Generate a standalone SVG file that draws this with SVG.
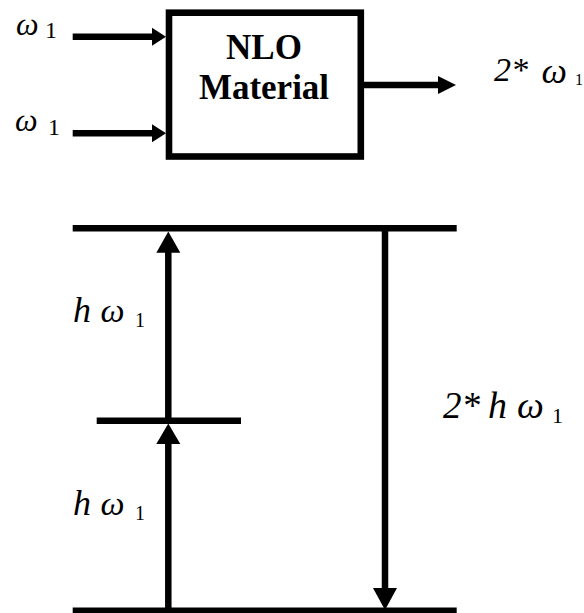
<svg xmlns="http://www.w3.org/2000/svg" width="584" height="613" viewBox="0 0 584 613">
<g id="nlo">
<rect x="169" y="12.7" width="191.8" height="143.8" fill="#fff" stroke="#000" stroke-width="6.6"/>
<text x="264" y="58.5" font-size="35" font-family="Liberation Serif" font-weight="bold" text-anchor="middle">NLO</text>
<text x="264" y="99" font-size="35" font-family="Liberation Serif" font-weight="bold" text-anchor="middle">Material</text>
</g>
<text id="in1-label" x="16" y="34.5" font-size="32" font-family="Liberation Serif"><tspan font-style="italic">ω</tspan><tspan x="45" y="38" font-size="24">1</tspan></text>
<text id="in2-label" x="15" y="131" font-size="32" font-family="Liberation Serif"><tspan font-style="italic">ω</tspan><tspan x="48" y="135" font-size="24">1</tspan></text>
<text id="out-label" x="494" y="81" font-size="34" font-family="Liberation Serif"><tspan font-style="italic">2*</tspan><tspan font-style="italic" x="541.5" y="83" font-size="36">ω</tspan><tspan x="575" y="85" font-size="16">1</tspan></text>
<g id="levels" stroke="#000" stroke-width="6.5" fill="none">
<line id="level-top" x1="72.7" y1="228.3" x2="456.7" y2="228.3"/>
<line id="level-mid" x1="96.7" y1="420.7" x2="241" y2="420.7"/>
<line id="level-bottom" x1="72.7" y1="610.7" x2="456.7" y2="610.7"/>
</g>
<text id="lbl-h1" x="73" y="321.7" font-size="36" font-family="Liberation Serif"><tspan font-style="italic">h</tspan><tspan font-style="italic" x="100.5" font-size="34">ω</tspan><tspan x="135" y="326.7" font-size="20">1</tspan></text>
<text id="lbl-h2" x="73" y="514.5" font-size="36" font-family="Liberation Serif"><tspan font-style="italic">h</tspan><tspan font-style="italic" x="100.5" font-size="34">ω</tspan><tspan x="135" y="519.5" font-size="20">1</tspan></text>
<text id="lbl-2h" x="443" y="418" font-size="37" font-family="Liberation Serif"><tspan font-style="italic">2*</tspan><tspan font-style="italic" x="488" font-size="38">h</tspan><tspan font-style="italic" x="517" font-size="38">ω</tspan><tspan x="552" y="423" font-size="22">1</tspan></text>
<g id="connectors">
<g stroke="#000" stroke-width="6.5" fill="none">
<line x1="72.7" y1="36.7" x2="154" y2="36.7"/>
<line x1="72.7" y1="133.3" x2="154" y2="133.3"/>
<line x1="364" y1="85" x2="440" y2="85"/>
<line x1="168.3" y1="420.7" x2="168.3" y2="250"/>
<line x1="168.3" y1="610.7" x2="168.3" y2="442"/>
<line x1="385" y1="228.3" x2="385" y2="590"/>
</g>
<g fill="#000">
<polygon points="152,27.7 166,36.7 152,45.7"/>
<polygon points="152,124.3 166,133.3 152,142.3"/>
<polygon points="438,76 456,85 438,94"/>
<polygon points="156.3,252.7 168.3,231.5 180.3,252.7"/>
<polygon points="156.3,444 168.3,423.5 180.3,444"/>
<polygon points="373,588 385,610 397,588"/>
</g>
</g>
</svg>
